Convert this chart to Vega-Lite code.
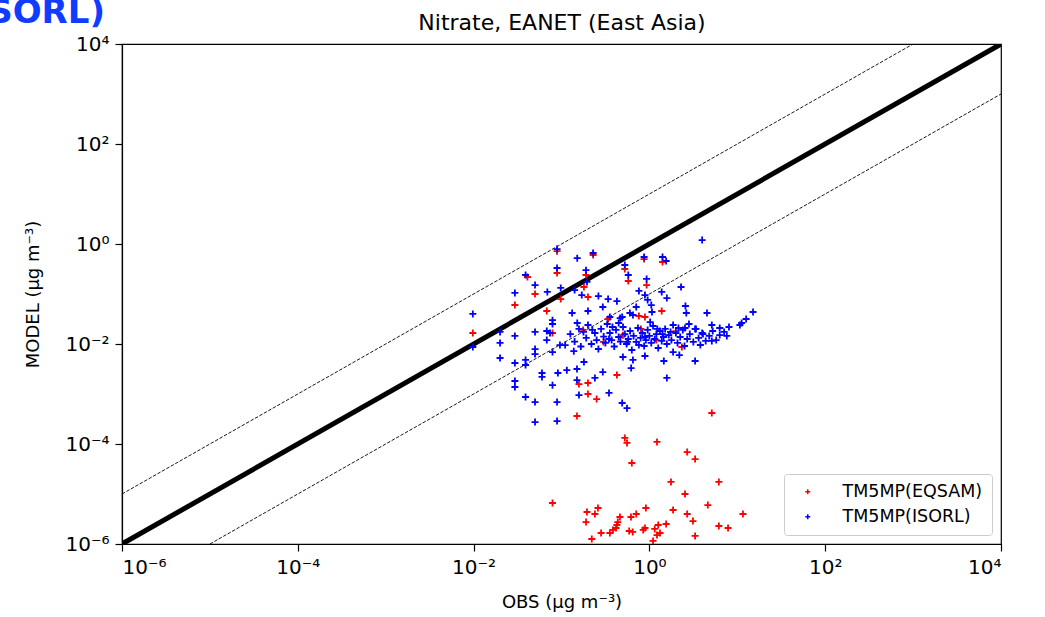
{
  "$schema": "https://vega.github.io/schema/vega-lite/v6.json",
  "autosize": {"type": "none"},
  "padding": {"left": 122, "top": 44, "right": 44, "bottom": 73},
  "width": 879,
  "height": 500,
  "background": "white",
  "title": {"text": "(ISORL)", "anchor": "start", "align": "right", "frame": "group", "dx": -17, "dy": 50, "fontSize": 34, "fontWeight": "bold", "color": "#0f3cff", "font": "DejaVu Sans", "baseline": "alphabetic"},
  "config": {
    "view": {"stroke": "black", "strokeWidth": 1.2},
    "font": "DejaVu Sans",
    "axis": {"grid": false, "domainColor": "black", "domainWidth": 1.2, "tickColor": "black", "tickWidth": 1.2, "tickSize": 7, "labelColor": "black", "labelFontSize": 20, "labelFont": "DejaVu Sans", "titleFont": "DejaVu Sans", "titleFontSize": 18, "titleFontWeight": "normal", "titleColor": "black", "labelPadding": 6}
  },
  "datasets": {
    "lines": [
      {"line": "1:1", "obs": 0.000001, "model": 0.000001},
      {"line": "1:1", "obs": 10000, "model": 10000},
      {"line": "10x", "obs": 0.000001, "model": 0.00001},
      {"line": "10x", "obs": 1000, "model": 10000},
      {"line": "0.1x", "obs": 0.00001, "model": 0.000001},
      {"line": "0.1x", "obs": 10000, "model": 1000}
    ],
    "pts": [
      {"run": "TM5MP(EQSAM)", "obs": 0.0098, "model": 0.0166},
      {"run": "TM5MP(EQSAM)", "obs": 0.0295, "model": 0.0603},
      {"run": "TM5MP(EQSAM)", "obs": 0.05, "model": 0.1},
      {"run": "TM5MP(EQSAM)", "obs": 0.089, "model": 0.263},
      {"run": "TM5MP(EQSAM)", "obs": 0.19, "model": 0.24},
      {"run": "TM5MP(EQSAM)", "obs": 0.18, "model": 0.138},
      {"run": "TM5MP(EQSAM)", "obs": 0.2, "model": 0.087},
      {"run": "TM5MP(EQSAM)", "obs": 0.098, "model": 0.079},
      {"run": "TM5MP(EQSAM)", "obs": 0.068, "model": 0.0457},
      {"run": "TM5MP(EQSAM)", "obs": 0.079, "model": 0.0166},
      {"run": "TM5MP(EQSAM)", "obs": 0.176, "model": 0.0191},
      {"run": "TM5MP(EQSAM)", "obs": 0.339, "model": 0.0316},
      {"run": "TM5MP(EQSAM)", "obs": 0.525, "model": 0.316},
      {"run": "TM5MP(EQSAM)", "obs": 0.575, "model": 0.182},
      {"run": "TM5MP(EQSAM)", "obs": 0.93, "model": 0.151},
      {"run": "TM5MP(EQSAM)", "obs": 0.76, "model": 0.0363},
      {"run": "TM5MP(EQSAM)", "obs": 0.89, "model": 0.0347},
      {"run": "TM5MP(EQSAM)", "obs": 1.38, "model": 0.0457},
      {"run": "TM5MP(EQSAM)", "obs": 0.87, "model": 0.5},
      {"run": "TM5MP(EQSAM)", "obs": 1.41, "model": 0.437},
      {"run": "TM5MP(EQSAM)", "obs": 0.229, "model": 0.603},
      {"run": "TM5MP(EQSAM)", "obs": 2.34, "model": 0.0087},
      {"run": "TM5MP(EQSAM)", "obs": 0.427, "model": 0.0024},
      {"run": "TM5MP(EQSAM)", "obs": 0.158, "model": 0.00158},
      {"run": "TM5MP(EQSAM)", "obs": 0.2, "model": 0.00166},
      {"run": "TM5MP(EQSAM)", "obs": 0.2, "model": 0.001},
      {"run": "TM5MP(EQSAM)", "obs": 0.251, "model": 0.00079},
      {"run": "TM5MP(EQSAM)", "obs": 0.15, "model": 0.000363},
      {"run": "TM5MP(EQSAM)", "obs": 5.13, "model": 0.000417},
      {"run": "TM5MP(EQSAM)", "obs": 0.041, "model": 0.219},
      {"run": "TM5MP(EQSAM)", "obs": 0.089, "model": 0.72},
      {"run": "TM5MP(EQSAM)", "obs": 0.5, "model": 0.015},
      {"run": "TM5MP(EQSAM)", "obs": 1.2, "model": 0.012},
      {"run": "TM5MP(EQSAM)", "obs": 2.0, "model": 0.018},
      {"run": "TM5MP(EQSAM)", "obs": 0.3, "model": 0.011},
      {"run": "TM5MP(EQSAM)", "obs": 0.8, "model": 0.02},
      {"run": "TM5MP(EQSAM)", "obs": 0.079, "model": 0.0000066},
      {"run": "TM5MP(EQSAM)", "obs": 0.525, "model": 0.000132},
      {"run": "TM5MP(EQSAM)", "obs": 0.556, "model": 0.000105},
      {"run": "TM5MP(EQSAM)", "obs": 1.22, "model": 0.00011},
      {"run": "TM5MP(EQSAM)", "obs": 0.631, "model": 0.0000417},
      {"run": "TM5MP(EQSAM)", "obs": 2.69, "model": 0.000069},
      {"run": "TM5MP(EQSAM)", "obs": 3.31, "model": 0.00005},
      {"run": "TM5MP(EQSAM)", "obs": 1.76, "model": 0.0000174},
      {"run": "TM5MP(EQSAM)", "obs": 6.17, "model": 0.0000174},
      {"run": "TM5MP(EQSAM)", "obs": 2.54, "model": 0.00001},
      {"run": "TM5MP(EQSAM)", "obs": 4.62, "model": 0.000006},
      {"run": "TM5MP(EQSAM)", "obs": 0.195, "model": 0.00000437},
      {"run": "TM5MP(EQSAM)", "obs": 0.24, "model": 0.00000398},
      {"run": "TM5MP(EQSAM)", "obs": 0.26, "model": 0.00000525},
      {"run": "TM5MP(EQSAM)", "obs": 0.19, "model": 0.00000275},
      {"run": "TM5MP(EQSAM)", "obs": 0.617, "model": 0.00000347},
      {"run": "TM5MP(EQSAM)", "obs": 0.708, "model": 0.00000398},
      {"run": "TM5MP(EQSAM)", "obs": 0.912, "model": 0.00000525},
      {"run": "TM5MP(EQSAM)", "obs": 1.86, "model": 0.00000479},
      {"run": "TM5MP(EQSAM)", "obs": 2.69, "model": 0.00000398},
      {"run": "TM5MP(EQSAM)", "obs": 3.13, "model": 0.00000288},
      {"run": "TM5MP(EQSAM)", "obs": 11.6, "model": 0.00000398},
      {"run": "TM5MP(EQSAM)", "obs": 0.462, "model": 0.00000347},
      {"run": "TM5MP(EQSAM)", "obs": 0.437, "model": 0.00000275},
      {"run": "TM5MP(EQSAM)", "obs": 0.427, "model": 0.0000024},
      {"run": "TM5MP(EQSAM)", "obs": 0.417, "model": 0.00000209},
      {"run": "TM5MP(EQSAM)", "obs": 0.385, "model": 0.00000191},
      {"run": "TM5MP(EQSAM)", "obs": 0.355, "model": 0.00000166},
      {"run": "TM5MP(EQSAM)", "obs": 0.282, "model": 0.00000166},
      {"run": "TM5MP(EQSAM)", "obs": 0.221, "model": 0.00000126},
      {"run": "TM5MP(EQSAM)", "obs": 0.589, "model": 0.00000182},
      {"run": "TM5MP(EQSAM)", "obs": 0.646, "model": 0.00000174},
      {"run": "TM5MP(EQSAM)", "obs": 0.851, "model": 0.00000191},
      {"run": "TM5MP(EQSAM)", "obs": 0.891, "model": 0.00000209},
      {"run": "TM5MP(EQSAM)", "obs": 1.15, "model": 0.000002},
      {"run": "TM5MP(EQSAM)", "obs": 1.26, "model": 0.0000024},
      {"run": "TM5MP(EQSAM)", "obs": 1.22, "model": 0.00000151},
      {"run": "TM5MP(EQSAM)", "obs": 1.32, "model": 0.00000166},
      {"run": "TM5MP(EQSAM)", "obs": 1.55, "model": 0.00000251},
      {"run": "TM5MP(EQSAM)", "obs": 1.1, "model": 0.00000115},
      {"run": "TM5MP(EQSAM)", "obs": 3.31, "model": 0.00000145},
      {"run": "TM5MP(EQSAM)", "obs": 6.17, "model": 0.00000229},
      {"run": "TM5MP(EQSAM)", "obs": 7.85, "model": 0.00000209},
      {"run": "TM5MP(ISORL)", "obs": 3.98, "model": 1.2},
      {"run": "TM5MP(ISORL)", "obs": 0.089, "model": 0.79},
      {"run": "TM5MP(ISORL)", "obs": 0.151, "model": 0.52},
      {"run": "TM5MP(ISORL)", "obs": 0.229, "model": 0.66},
      {"run": "TM5MP(ISORL)", "obs": 0.87, "model": 0.55},
      {"run": "TM5MP(ISORL)", "obs": 1.41, "model": 0.55},
      {"run": "TM5MP(ISORL)", "obs": 1.55, "model": 0.457},
      {"run": "TM5MP(ISORL)", "obs": 0.089, "model": 0.331},
      {"run": "TM5MP(ISORL)", "obs": 0.19, "model": 0.3},
      {"run": "TM5MP(ISORL)", "obs": 0.525, "model": 0.38},
      {"run": "TM5MP(ISORL)", "obs": 0.575, "model": 0.24},
      {"run": "TM5MP(ISORL)", "obs": 0.039, "model": 0.24},
      {"run": "TM5MP(ISORL)", "obs": 0.05, "model": 0.151},
      {"run": "TM5MP(ISORL)", "obs": 0.0295, "model": 0.105},
      {"run": "TM5MP(ISORL)", "obs": 0.069, "model": 0.11},
      {"run": "TM5MP(ISORL)", "obs": 0.93, "model": 0.2},
      {"run": "TM5MP(ISORL)", "obs": 0.141, "model": 0.12},
      {"run": "TM5MP(ISORL)", "obs": 0.17, "model": 0.095},
      {"run": "TM5MP(ISORL)", "obs": 0.263, "model": 0.091},
      {"run": "TM5MP(ISORL)", "obs": 0.339, "model": 0.079},
      {"run": "TM5MP(ISORL)", "obs": 0.427, "model": 0.072},
      {"run": "TM5MP(ISORL)", "obs": 0.76, "model": 0.115},
      {"run": "TM5MP(ISORL)", "obs": 0.955, "model": 0.076},
      {"run": "TM5MP(ISORL)", "obs": 1.38, "model": 0.11},
      {"run": "TM5MP(ISORL)", "obs": 1.58, "model": 0.083},
      {"run": "TM5MP(ISORL)", "obs": 2.29, "model": 0.138},
      {"run": "TM5MP(ISORL)", "obs": 2.57, "model": 0.0575},
      {"run": "TM5MP(ISORL)", "obs": 2.63, "model": 0.0417},
      {"run": "TM5MP(ISORL)", "obs": 0.0098, "model": 0.04},
      {"run": "TM5MP(ISORL)", "obs": 0.295, "model": 0.055},
      {"run": "TM5MP(ISORL)", "obs": 0.2, "model": 0.0457},
      {"run": "TM5MP(ISORL)", "obs": 0.132, "model": 0.0417},
      {"run": "TM5MP(ISORL)", "obs": 0.079, "model": 0.03},
      {"run": "TM5MP(ISORL)", "obs": 0.079, "model": 0.0251},
      {"run": "TM5MP(ISORL)", "obs": 0.151, "model": 0.0263},
      {"run": "TM5MP(ISORL)", "obs": 0.465, "model": 0.033},
      {"run": "TM5MP(ISORL)", "obs": 0.6, "model": 0.0417},
      {"run": "TM5MP(ISORL)", "obs": 0.65, "model": 0.038},
      {"run": "TM5MP(ISORL)", "obs": 4.52, "model": 0.0417},
      {"run": "TM5MP(ISORL)", "obs": 15.1, "model": 0.0437},
      {"run": "TM5MP(ISORL)", "obs": 12.6, "model": 0.0316},
      {"run": "TM5MP(ISORL)", "obs": 11.2, "model": 0.0263},
      {"run": "TM5MP(ISORL)", "obs": 8.04, "model": 0.0219},
      {"run": "TM5MP(ISORL)", "obs": 6.31, "model": 0.0209},
      {"run": "TM5MP(ISORL)", "obs": 7.6, "model": 0.0145},
      {"run": "TM5MP(ISORL)", "obs": 5.13, "model": 0.024},
      {"run": "TM5MP(ISORL)", "obs": 4.07, "model": 0.0158},
      {"run": "TM5MP(ISORL)", "obs": 0.02, "model": 0.0174},
      {"run": "TM5MP(ISORL)", "obs": 0.02, "model": 0.0105},
      {"run": "TM5MP(ISORL)", "obs": 0.0295, "model": 0.0145},
      {"run": "TM5MP(ISORL)", "obs": 0.05, "model": 0.0174},
      {"run": "TM5MP(ISORL)", "obs": 0.068, "model": 0.0182},
      {"run": "TM5MP(ISORL)", "obs": 0.068, "model": 0.012},
      {"run": "TM5MP(ISORL)", "obs": 0.0098, "model": 0.0087},
      {"run": "TM5MP(ISORL)", "obs": 0.02, "model": 0.00525},
      {"run": "TM5MP(ISORL)", "obs": 0.0295, "model": 0.00417},
      {"run": "TM5MP(ISORL)", "obs": 0.039, "model": 0.0048},
      {"run": "TM5MP(ISORL)", "obs": 0.039, "model": 0.0038},
      {"run": "TM5MP(ISORL)", "obs": 0.05, "model": 0.0079},
      {"run": "TM5MP(ISORL)", "obs": 0.05, "model": 0.0063},
      {"run": "TM5MP(ISORL)", "obs": 0.079, "model": 0.0069},
      {"run": "TM5MP(ISORL)", "obs": 0.138, "model": 0.0072},
      {"run": "TM5MP(ISORL)", "obs": 0.096, "model": 0.0095},
      {"run": "TM5MP(ISORL)", "obs": 0.11, "model": 0.0095},
      {"run": "TM5MP(ISORL)", "obs": 0.18, "model": 0.00437},
      {"run": "TM5MP(ISORL)", "obs": 0.115, "model": 0.003},
      {"run": "TM5MP(ISORL)", "obs": 0.15, "model": 0.00316},
      {"run": "TM5MP(ISORL)", "obs": 0.295, "model": 0.00275},
      {"run": "TM5MP(ISORL)", "obs": 0.62, "model": 0.0033},
      {"run": "TM5MP(ISORL)", "obs": 0.89, "model": 0.00575},
      {"run": "TM5MP(ISORL)", "obs": 1.46, "model": 0.00457},
      {"run": "TM5MP(ISORL)", "obs": 2.19, "model": 0.006},
      {"run": "TM5MP(ISORL)", "obs": 3.31, "model": 0.00457},
      {"run": "TM5MP(ISORL)", "obs": 0.06, "model": 0.00263},
      {"run": "TM5MP(ISORL)", "obs": 0.06, "model": 0.0022},
      {"run": "TM5MP(ISORL)", "obs": 0.091, "model": 0.00263},
      {"run": "TM5MP(ISORL)", "obs": 0.0295, "model": 0.00182},
      {"run": "TM5MP(ISORL)", "obs": 0.0295, "model": 0.00138},
      {"run": "TM5MP(ISORL)", "obs": 0.079, "model": 0.0015},
      {"run": "TM5MP(ISORL)", "obs": 0.24, "model": 0.0021},
      {"run": "TM5MP(ISORL)", "obs": 0.15, "model": 0.0019},
      {"run": "TM5MP(ISORL)", "obs": 1.58, "model": 0.0021},
      {"run": "TM5MP(ISORL)", "obs": 0.158, "model": 0.00095},
      {"run": "TM5MP(ISORL)", "obs": 0.347, "model": 0.00105},
      {"run": "TM5MP(ISORL)", "obs": 0.039, "model": 0.00087},
      {"run": "TM5MP(ISORL)", "obs": 0.05, "model": 0.00069},
      {"run": "TM5MP(ISORL)", "obs": 0.089, "model": 0.00069},
      {"run": "TM5MP(ISORL)", "obs": 0.49, "model": 0.00066},
      {"run": "TM5MP(ISORL)", "obs": 0.556, "model": 0.00052},
      {"run": "TM5MP(ISORL)", "obs": 0.05, "model": 0.000275},
      {"run": "TM5MP(ISORL)", "obs": 0.089, "model": 0.000288},
      {"run": "TM5MP(ISORL)", "obs": 0.5, "model": 0.0055},
      {"run": "TM5MP(ISORL)", "obs": 0.65, "model": 0.0048},
      {"run": "TM5MP(ISORL)", "obs": 1.86, "model": 0.0069},
      {"run": "TM5MP(ISORL)", "obs": 5.13, "model": 0.0115},
      {"run": "TM5MP(ISORL)", "obs": 0.074, "model": 0.0166},
      {"run": "TM5MP(ISORL)", "obs": 0.89, "model": 0.095},
      {"run": "TM5MP(ISORL)", "obs": 1.05, "model": 0.06},
      {"run": "TM5MP(ISORL)", "obs": 0.708, "model": 0.055},
      {"run": "TM5MP(ISORL)", "obs": 1.07, "model": 0.0437},
      {"run": "TM5MP(ISORL)", "obs": 0.355, "model": 0.0347},
      {"run": "TM5MP(ISORL)", "obs": 0.49, "model": 0.0347},
      {"run": "TM5MP(ISORL)", "obs": 3.31, "model": 0.02},
      {"run": "TM5MP(ISORL)", "obs": 2.54, "model": 0.0209},
      {"run": "TM5MP(ISORL)", "obs": 10.7, "model": 0.024},
      {"run": "TM5MP(ISORL)", "obs": 0.098, "model": 0.132},
      {"run": "TM5MP(ISORL)", "obs": 0.195, "model": 0.174},
      {"run": "TM5MP(ISORL)", "obs": 0.126, "model": 0.0158},
      {"run": "TM5MP(ISORL)", "obs": 0.141, "model": 0.0112},
      {"run": "TM5MP(ISORL)", "obs": 0.158, "model": 0.02},
      {"run": "TM5MP(ISORL)", "obs": 0.166, "model": 0.00891},
      {"run": "TM5MP(ISORL)", "obs": 0.191, "model": 0.0132},
      {"run": "TM5MP(ISORL)", "obs": 0.2, "model": 0.024},
      {"run": "TM5MP(ISORL)", "obs": 0.219, "model": 0.01},
      {"run": "TM5MP(ISORL)", "obs": 0.24, "model": 0.0166},
      {"run": "TM5MP(ISORL)", "obs": 0.251, "model": 0.012},
      {"run": "TM5MP(ISORL)", "obs": 0.263, "model": 0.00794},
      {"run": "TM5MP(ISORL)", "obs": 0.282, "model": 0.02},
      {"run": "TM5MP(ISORL)", "obs": 0.302, "model": 0.0141},
      {"run": "TM5MP(ISORL)", "obs": 0.316, "model": 0.0105},
      {"run": "TM5MP(ISORL)", "obs": 0.331, "model": 0.0251},
      {"run": "TM5MP(ISORL)", "obs": 0.355, "model": 0.0166},
      {"run": "TM5MP(ISORL)", "obs": 0.372, "model": 0.012},
      {"run": "TM5MP(ISORL)", "obs": 0.398, "model": 0.00891},
      {"run": "TM5MP(ISORL)", "obs": 0.417, "model": 0.0191},
      {"run": "TM5MP(ISORL)", "obs": 0.447, "model": 0.0138},
      {"run": "TM5MP(ISORL)", "obs": 0.468, "model": 0.0112},
      {"run": "TM5MP(ISORL)", "obs": 0.501, "model": 0.0219},
      {"run": "TM5MP(ISORL)", "obs": 0.525, "model": 0.0158},
      {"run": "TM5MP(ISORL)", "obs": 0.55, "model": 0.01},
      {"run": "TM5MP(ISORL)", "obs": 0.575, "model": 0.0126},
      {"run": "TM5MP(ISORL)", "obs": 0.603, "model": 0.0182},
      {"run": "TM5MP(ISORL)", "obs": 0.631, "model": 0.00759},
      {"run": "TM5MP(ISORL)", "obs": 0.661, "model": 0.0145},
      {"run": "TM5MP(ISORL)", "obs": 0.708, "model": 0.011},
      {"run": "TM5MP(ISORL)", "obs": 0.741, "model": 0.0209},
      {"run": "TM5MP(ISORL)", "obs": 0.794, "model": 0.0132},
      {"run": "TM5MP(ISORL)", "obs": 0.832, "model": 0.0166},
      {"run": "TM5MP(ISORL)", "obs": 0.871, "model": 0.00912},
      {"run": "TM5MP(ISORL)", "obs": 0.912, "model": 0.012},
      {"run": "TM5MP(ISORL)", "obs": 0.955, "model": 0.0191},
      {"run": "TM5MP(ISORL)", "obs": 1.0, "model": 0.0145},
      {"run": "TM5MP(ISORL)", "obs": 1.05, "model": 0.0105},
      {"run": "TM5MP(ISORL)", "obs": 1.1, "model": 0.0229},
      {"run": "TM5MP(ISORL)", "obs": 1.15, "model": 0.0126},
      {"run": "TM5MP(ISORL)", "obs": 1.2, "model": 0.0158},
      {"run": "TM5MP(ISORL)", "obs": 1.26, "model": 0.00832},
      {"run": "TM5MP(ISORL)", "obs": 1.32, "model": 0.0182},
      {"run": "TM5MP(ISORL)", "obs": 1.38, "model": 0.0115},
      {"run": "TM5MP(ISORL)", "obs": 1.45, "model": 0.0138},
      {"run": "TM5MP(ISORL)", "obs": 1.51, "model": 0.02},
      {"run": "TM5MP(ISORL)", "obs": 1.58, "model": 0.01},
      {"run": "TM5MP(ISORL)", "obs": 1.66, "model": 0.0151},
      {"run": "TM5MP(ISORL)", "obs": 1.78, "model": 0.012},
      {"run": "TM5MP(ISORL)", "obs": 1.86, "model": 0.024},
      {"run": "TM5MP(ISORL)", "obs": 2.0, "model": 0.0166},
      {"run": "TM5MP(ISORL)", "obs": 2.09, "model": 0.0105},
      {"run": "TM5MP(ISORL)", "obs": 2.24, "model": 0.0138},
      {"run": "TM5MP(ISORL)", "obs": 2.4, "model": 0.0191},
      {"run": "TM5MP(ISORL)", "obs": 2.51, "model": 0.00912},
      {"run": "TM5MP(ISORL)", "obs": 2.69, "model": 0.0126},
      {"run": "TM5MP(ISORL)", "obs": 2.88, "model": 0.0158},
      {"run": "TM5MP(ISORL)", "obs": 3.16, "model": 0.011},
      {"run": "TM5MP(ISORL)", "obs": 3.39, "model": 0.02},
      {"run": "TM5MP(ISORL)", "obs": 3.63, "model": 0.0132},
      {"run": "TM5MP(ISORL)", "obs": 3.98, "model": 0.0166},
      {"run": "TM5MP(ISORL)", "obs": 4.37, "model": 0.0115},
      {"run": "TM5MP(ISORL)", "obs": 4.79, "model": 0.0145},
      {"run": "TM5MP(ISORL)", "obs": 5.25, "model": 0.0182},
      {"run": "TM5MP(ISORL)", "obs": 5.75, "model": 0.012},
      {"run": "TM5MP(ISORL)", "obs": 6.31, "model": 0.0151},
      {"run": "TM5MP(ISORL)", "obs": 7.08, "model": 0.0174},
      {"run": "TM5MP(ISORL)", "obs": 0.224, "model": 0.0191},
      {"run": "TM5MP(ISORL)", "obs": 0.38, "model": 0.0219},
      {"run": "TM5MP(ISORL)", "obs": 0.759, "model": 0.00955},
      {"run": "TM5MP(ISORL)", "obs": 1.23, "model": 0.02},
      {"run": "TM5MP(ISORL)", "obs": 2.14, "model": 0.0209},
      {"run": "TM5MP(ISORL)", "obs": 0.447, "model": 0.0263},
      {"run": "TM5MP(ISORL)", "obs": 1.02, "model": 0.0275},
      {"run": "TM5MP(ISORL)", "obs": 2.82, "model": 0.0251},
      {"run": "TM5MP(ISORL)", "obs": 0.178, "model": 0.0174},
      {"run": "TM5MP(ISORL)", "obs": 0.562, "model": 0.011},
      {"run": "TM5MP(ISORL)", "obs": 1.74, "model": 0.0174},
      {"run": "TM5MP(ISORL)", "obs": 3.8, "model": 0.00955},
      {"run": "TM5MP(ISORL)", "obs": 0.891, "model": 0.0138},
      {"run": "TM5MP(ISORL)", "obs": 1.41, "model": 0.0158},
      {"run": "TM5MP(ISORL)", "obs": 0.347, "model": 0.0126}
    ]
  },
  "resolve": {"axis": {"x": "independent", "y": "independent"}},
  "layer": [
    {
      "data": {"name": "lines"},
      "transform": [{"filter": "datum.line === '1:1'"}],
      "mark": {"type": "line", "color": "black", "strokeWidth": 5, "clip": true},
      "encoding": {
        "x": {"field": "obs", "type": "quantitative", "scale": {"type": "log", "domain": [0.000001, 10000], "nice": false},
          "axis": {"orient": "bottom", "values": [0.000001, 0.0001, 0.01, 1, 100, 10000], "title": "OBS (μg m⁻³)", "titlePadding": 16,
            "labelExpr": "datum.value < 0.00001 ? '10⁻⁶' : datum.value < 0.001 ? '10⁻⁴' : datum.value < 0.1 ? '10⁻²' : datum.value < 10 ? '10⁰' : datum.value < 1000 ? '10²' : '10⁴'"}},
        "y": {"field": "model", "type": "quantitative", "scale": {"type": "log", "domain": [0.000001, 10000], "nice": false},
          "axis": {"orient": "left", "values": [0.000001, 0.0001, 0.01, 1, 100, 10000], "title": "MODEL (μg m⁻³)", "titlePadding": 22,
            "labelExpr": "datum.value < 0.00001 ? '10⁻⁶' : datum.value < 0.001 ? '10⁻⁴' : datum.value < 0.1 ? '10⁻²' : datum.value < 10 ? '10⁰' : datum.value < 1000 ? '10²' : '10⁴'"}}
      }
    },
    {
      "data": {"name": "lines"},
      "transform": [{"filter": "datum.line !== '1:1'"}],
      "mark": {"type": "line", "color": "black", "strokeWidth": 0.9, "strokeDash": [3.5, 1.6], "clip": true},
      "encoding": {
        "x": {"field": "obs", "type": "quantitative", "scale": {"type": "log", "domain": [0.000001, 10000], "nice": false},
          "axis": {"orient": "top", "labels": false, "ticks": false, "domain": false, "title": "Nitrate, EANET (East Asia)", "titleFontSize": 22, "titlePadding": 10}},
        "y": {"field": "model", "type": "quantitative", "scale": {"type": "log", "domain": [0.000001, 10000], "nice": false}, "axis": null},
        "detail": {"field": "line"}
      }
    },
    {
      "data": {"name": "pts"},
      "mark": {"type": "point", "shape": "M-1,0L1,0M0,-1L0,1", "filled": false, "strokeWidth": 1.8, "size": 49, "opacity": 1, "clip": true},
      "encoding": {
        "x": {"field": "obs", "type": "quantitative", "scale": {"type": "log", "domain": [0.000001, 10000], "nice": false}, "axis": null},
        "y": {"field": "model", "type": "quantitative", "scale": {"type": "log", "domain": [0.000001, 10000], "nice": false}, "axis": null},
        "color": {"field": "run", "type": "nominal", "scale": {"domain": ["TM5MP(EQSAM)", "TM5MP(ISORL)"], "range": ["#ff0000", "#0000ff"]},
          "legend": {"title": null, "orient": "bottom-right", "offset": 9, "fillColor": "white", "strokeColor": "#cccccc", "cornerRadius": 3, "padding": 9,
            "labelFontSize": 17.5, "labelFont": "DejaVu Sans", "labelColor": "black", "symbolSize": 25, "symbolStrokeWidth": 1.5, "symbolOffset": 6, "labelOffset": 26, "rowPadding": 6}}
      }
    }
  ]
}
